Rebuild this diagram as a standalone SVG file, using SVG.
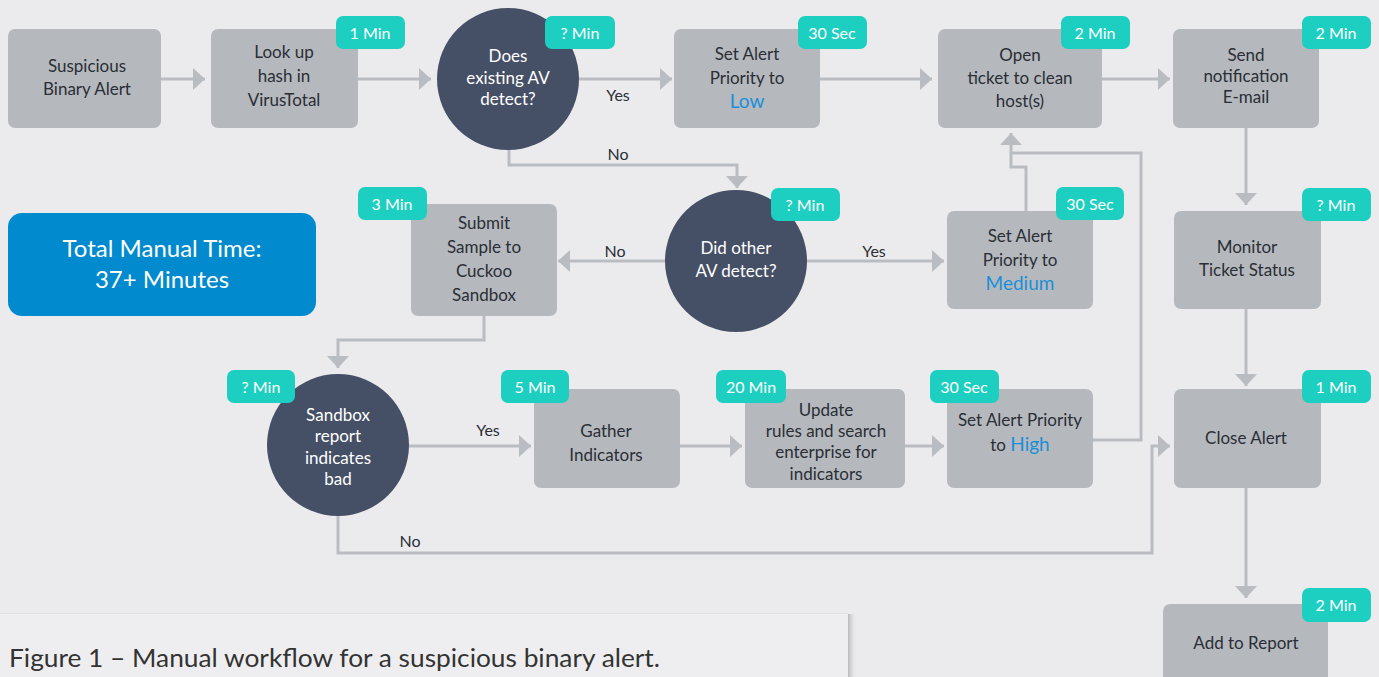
<svg xmlns="http://www.w3.org/2000/svg" width="1379" height="677" viewBox="0 0 1379 677">
<defs>
<style>
.bg{fill:#ebebed}
.box{fill:#b5b9bd}
.circ{fill:#454f66}
.badge{fill:#1ccfc0}
.bt{font-family:Lato,"Liberation Sans",sans-serif;font-size:16px;fill:#ffffff;text-anchor:middle}
.t{font-family:Lato,"Liberation Sans",sans-serif;font-size:17px;fill:#2a2e36;text-anchor:middle}
.tw{font-family:Lato,"Liberation Sans",sans-serif;font-size:17px;fill:#ffffff;text-anchor:middle}
.blue{fill:#1a8fd8;font-size:19px}
.lbl{font-family:Lato,"Liberation Sans",sans-serif;font-size:16px;fill:#2a2e36;text-anchor:middle}
.con{fill:none;stroke:#b9bdc1;stroke-width:3}
</style>
<marker id="ah" markerWidth="12" markerHeight="22" refX="12" refY="11" orient="auto" markerUnits="userSpaceOnUse">
<path d="M0,0 L12,11 L0,22 Z" fill="#b9bdc1"/>
</marker>
<linearGradient id="sh" x1="0" y1="0" x2="1" y2="0">
<stop offset="0" stop-color="#b8b8bb"/>
<stop offset="1" stop-color="#ebebed" stop-opacity="0"/>
</linearGradient>
</defs>
<rect class="bg" x="0" y="0" width="1379" height="677"/>

<g id="connectors">
<path class="con" d="M161,79 H205" marker-end="url(#ah)"/>
<path class="con" d="M358,79 H431" marker-end="url(#ah)"/>
<path class="con" d="M579,79 H672" marker-end="url(#ah)"/>
<path class="con" d="M820,79 H932" marker-end="url(#ah)"/>
<path class="con" d="M1102,79 H1170" marker-end="url(#ah)"/>
<path class="con" d="M509,150 V165 H737 V188" marker-end="url(#ah)"/>
<path class="con" d="M807,261 H944" marker-end="url(#ah)"/>
<path class="con" d="M665,261 H558" marker-end="url(#ah)"/>
<path class="con" d="M484,316 V340 H338 V368" marker-end="url(#ah)"/>
<path class="con" d="M409,446 H531" marker-end="url(#ah)"/>
<path class="con" d="M680,446 H742" marker-end="url(#ah)"/>
<path class="con" d="M905,446 H944" marker-end="url(#ah)"/>
<path class="con" d="M1093,440 H1141 V153 H1011"/>
<path class="con" d="M1026,211 V167 H1011 V133" marker-end="url(#ah)"/>
<path class="con" d="M1246,128 V205" marker-end="url(#ah)"/>
<path class="con" d="M1246,309 V386" marker-end="url(#ah)"/>
<path class="con" d="M338,515 V553 H1152 V446 H1170" marker-end="url(#ah)"/>
<path class="con" d="M1246,488 V598" marker-end="url(#ah)"/>
<text class="lbl" x="618" y="101">Yes</text>
<text class="lbl" x="618" y="160">No</text>
<text class="lbl" x="615" y="257">No</text>
<text class="lbl" x="874" y="257">Yes</text>
<text class="lbl" x="488" y="436">Yes</text>
<text class="lbl" x="410" y="547">No</text>
</g>

<g id="n-suspicious">
<rect class="box" x="8" y="29" width="153" height="99" rx="7"/>
<text class="t" x="87" y="72">Suspicious</text>
<text class="t" x="87" y="95">Binary Alert</text>
</g>

<g id="n-lookup">
<rect class="box" x="211" y="29" width="147" height="99" rx="7"/>
<text class="t" x="284" y="58">Look up</text>
<text class="t" x="284" y="82">hash in</text>
<text class="t" x="284" y="106">VirusTotal</text>
<rect class="badge" x="336" y="16" width="69" height="33" rx="7"/>
<text class="bt" x="370" y="39">1 Min</text>
</g>

<g id="n-existing-av">
<circle class="circ" cx="508" cy="79" r="71"/>
<text class="tw" x="508" y="62">Does</text>
<text class="tw" x="508" y="84">existing AV</text>
<text class="tw" x="508" y="105">detect?</text>
<rect class="badge" x="545" y="16" width="70" height="33" rx="7"/>
<text class="bt" x="580" y="39">? Min</text>
</g>

<g id="n-low">
<rect class="box" x="674" y="29" width="146" height="99" rx="7"/>
<text class="t" x="747" y="60">Set Alert</text>
<text class="t" x="747" y="84">Priority to</text>
<text class="t blue" x="747" y="108">Low</text>
<rect class="badge" x="798" y="16" width="69" height="33" rx="7"/>
<text class="bt" x="832" y="39">30 Sec</text>
</g>

<g id="n-open-ticket">
<rect class="box" x="938" y="29" width="164" height="99" rx="7"/>
<text class="t" x="1020" y="61">Open</text>
<text class="t" x="1020" y="84">ticket to clean</text>
<text class="t" x="1020" y="107">host(s)</text>
<rect class="badge" x="1061" y="16" width="69" height="33" rx="7"/>
<text class="bt" x="1095" y="39">2 Min</text>
</g>

<g id="n-send">
<rect class="box" x="1173" y="29" width="146" height="99" rx="7"/>
<text class="t" x="1246" y="61">Send</text>
<text class="t" x="1246" y="82">notification</text>
<text class="t" x="1246" y="103">E-mail</text>
<rect class="badge" x="1302" y="16" width="69" height="33" rx="7"/>
<text class="bt" x="1336" y="39">2 Min</text>
</g>

<g id="n-total">
<rect x="8" y="213" width="308" height="103" rx="14" fill="#028acf"/>
<text x="162" y="257" font-family="Lato,'Liberation Sans',sans-serif" font-size="24" fill="#ffffff" text-anchor="middle">Total Manual Time:</text>
<text x="162" y="288" font-family="Lato,'Liberation Sans',sans-serif" font-size="24" fill="#ffffff" text-anchor="middle">37+ Minutes</text>
</g>

<g id="n-submit">
<rect class="box" x="411" y="204" width="146" height="112" rx="7"/>
<text class="t" x="484" y="229">Submit</text>
<text class="t" x="484" y="253">Sample to</text>
<text class="t" x="484" y="277">Cuckoo</text>
<text class="t" x="484" y="301">Sandbox</text>
<rect class="badge" x="358" y="187" width="69" height="33" rx="7"/>
<text class="bt" x="392" y="210">3 Min</text>
</g>

<g id="n-other-av">
<circle class="circ" cx="736" cy="261" r="71"/>
<text class="tw" x="736" y="254">Did other</text>
<text class="tw" x="736" y="277">AV detect?</text>
<rect class="badge" x="771" y="188" width="69" height="33" rx="7"/>
<text class="bt" x="805" y="211">? Min</text>
</g>

<g id="n-medium">
<rect class="box" x="947" y="211" width="146" height="98" rx="7"/>
<text class="t" x="1020" y="242">Set Alert</text>
<text class="t" x="1020" y="266">Priority to</text>
<text class="t blue" x="1020" y="290">Medium</text>
<rect class="badge" x="1056" y="187" width="68" height="33" rx="7"/>
<text class="bt" x="1090" y="210">30 Sec</text>
</g>

<g id="n-monitor">
<rect class="box" x="1174" y="211" width="147" height="98" rx="7"/>
<text class="t" x="1247" y="253">Monitor</text>
<text class="t" x="1247" y="276">Ticket Status</text>
<rect class="badge" x="1302" y="188" width="69" height="33" rx="7"/>
<text class="bt" x="1336" y="211">? Min</text>
</g>

<g id="n-sandbox-bad">
<circle class="circ" cx="338" cy="445" r="71"/>
<text class="tw" x="338" y="421">Sandbox</text>
<text class="tw" x="338" y="442">report</text>
<text class="tw" x="338" y="464">indicates</text>
<text class="tw" x="338" y="485">bad</text>
<rect class="badge" x="227" y="370" width="68" height="33" rx="7"/>
<text class="bt" x="261" y="393">? Min</text>
</g>

<g id="n-gather">
<rect class="box" x="534" y="389" width="146" height="99" rx="7"/>
<text class="t" x="606" y="437">Gather</text>
<text class="t" x="606" y="461">Indicators</text>
<rect class="badge" x="501" y="370" width="68" height="33" rx="7"/>
<text class="bt" x="535" y="393">5 Min</text>
</g>

<g id="n-update">
<rect class="box" x="745" y="389" width="160" height="99" rx="7"/>
<text class="t" x="826" y="416">Update</text>
<text class="t" x="826" y="437">rules and search</text>
<text class="t" x="826" y="458">enterprise for</text>
<text class="t" x="826" y="480">indicators</text>
<rect class="badge" x="716" y="370" width="70" height="33" rx="7"/>
<text class="bt" x="751" y="393">20 Min</text>
</g>

<g id="n-high">
<rect class="box" x="947" y="389" width="146" height="99" rx="7"/>
<text class="t" x="1020" y="426">Set Alert Priority</text>
<text class="t" x="1020" y="451">to <tspan class="blue">High</tspan></text>
<rect class="badge" x="930" y="370" width="69" height="33" rx="7"/>
<text class="bt" x="964" y="393">30 Sec</text>
</g>

<g id="n-close">
<rect class="box" x="1174" y="389" width="147" height="99" rx="7"/>
<text class="t" x="1246" y="444">Close Alert</text>
<rect class="badge" x="1302" y="370" width="69" height="33" rx="7"/>
<text class="bt" x="1336" y="393">1 Min</text>
</g>

<g id="n-report">
<rect class="box" x="1163" y="604" width="165" height="90" rx="7"/>
<text class="t" x="1246" y="649">Add to Report</text>
<rect class="badge" x="1302" y="588" width="69" height="34" rx="7"/>
<text class="bt" x="1336" y="611">2 Min</text>
</g>

<g id="caption">
<rect x="848" y="614" width="9" height="63" fill="url(#sh)"/>
<rect x="0" y="614" width="848" height="63" fill="#eeeef0"/>
<rect x="0" y="613" width="848" height="1" fill="#e2e2e4"/>
<text x="9" y="667" font-family="Lato,'Liberation Sans',sans-serif" font-size="25" fill="#333333" textLength="651" lengthAdjust="spacingAndGlyphs">Figure 1 – Manual workflow for a suspicious binary alert.</text>
</g>
</svg>
